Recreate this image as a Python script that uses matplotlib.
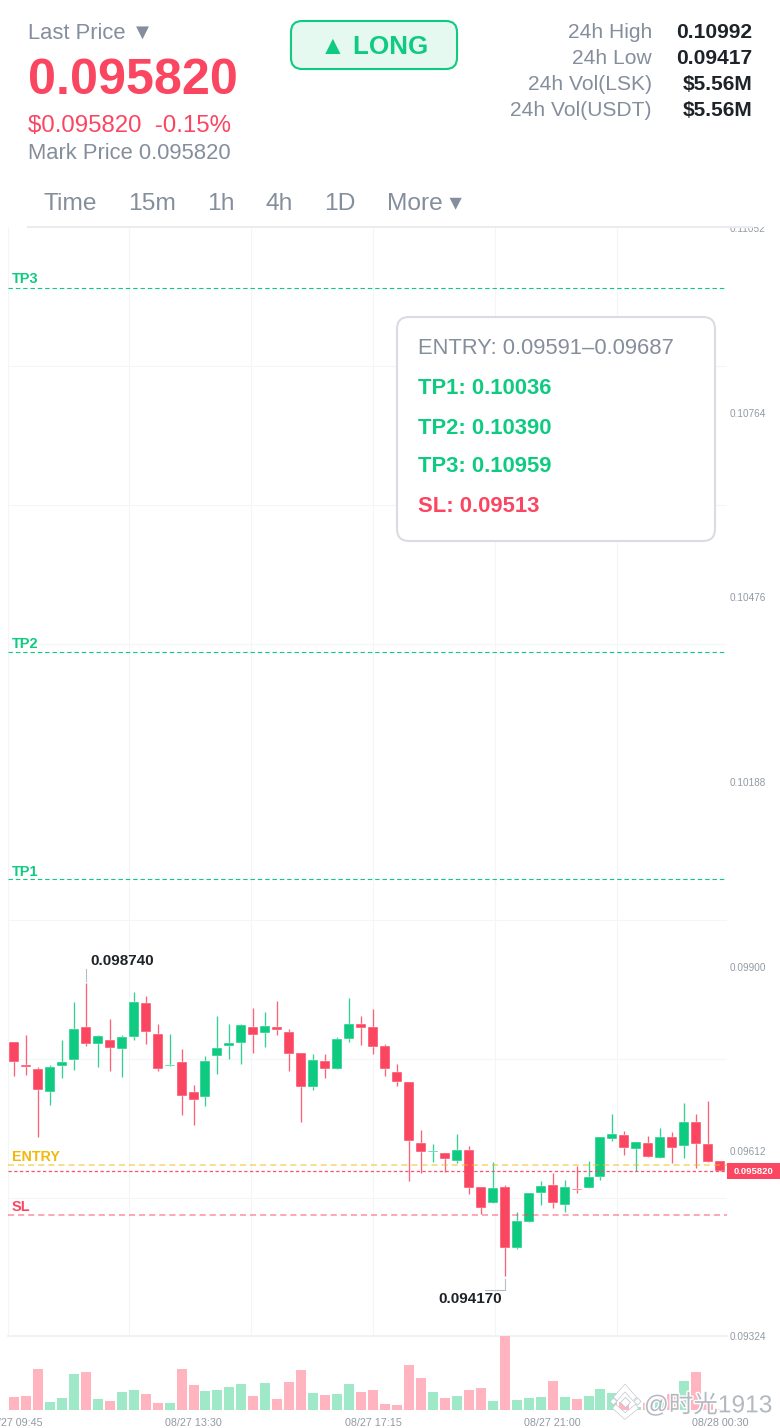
import matplotlib
matplotlib.use("Agg")
import matplotlib.pyplot as plt
from matplotlib.patches import FancyBboxPatch, Rectangle
import matplotlib.patheffects as pe

W, H = 780, 1428
plt.rcParams['font.family'] = ['Liberation Sans', 'DejaVu Sans', 'Noto Sans CJK SC']

# OHLC values (x 1e-6)
opens = [97830,97462,97404,97040,97451,97549,98054,97798,97856,97711,97908,98438,97950,97446,97508,
         97040,96963,97602,97763,97814,98064,97970,98059,97986,97649,97118,97533,97409,97872,98101,
         98064,97758,97352,97206,96255,96105,96094,95969,96145,95559,95309,95559,94608,95018,95470,
         95595,95288,95528,95548,95724,96312,96375,96156,96245,96021,96339,96203,96577,96234,95964]
highs = [97830,97934,97430,97462,97856,98444,98740,97939,98179,97929,98605,98547,98101,97950,97716,
         97159,97607,98230,98101,98106,98350,98297,98460,98023,97658,97633,97633,97903,98511,98230,
         98335,97794,97487,97206,96457,96234,96094,96390,96198,95559,95954,95590,95174,95475,95657,
         95777,95673,95891,95969,96339,96702,96432,96261,96359,96479,96426,96874,96702,96900,95964]
lows = [97299,97310,96348,96847,97268,97388,97763,97430,97377,97284,97861,97789,97377,97446,96686,
        96531,96827,97326,97560,97482,97658,97752,97934,97373,96582,97081,97268,97409,97830,97773,
        97633,97299,97143,95653,95787,95958,95802,95938,95450,95138,95309,94170,94597,95018,95283,
        95241,95174,95465,95548,95668,96276,96067,95818,96032,96021,95938,96021,95865,95958,95820]
closes = [97513,97430,97072,97435,97518,98028,97789,97914,97731,97898,98449,97981,97409,97466,96987,
          96920,97529,97736,97809,98085,97939,98074,98012,97642,97128,97544,97404,97867,98101,98039,
          97742,97399,97201,96281,96109,96120,95996,96136,95553,95236,95548,94608,95037,95475,95575,
          95314,95559,95512,95724,96339,96395,96177,96261,96036,96343,96177,96577,96239,95958,95820]
volumes = [39,41,122,24,35,107,113,33,26,54,61,47,22,20,122,74,56,60,69,79,42,81,33,84,120,51,46,48,77,55,
           60,18,15,135,96,55,36,42,60,65,26,222,30,35,39,88,39,33,41,63,51,25,10,20,35,48,87,115,25,3]
time_labels = ['08/27 09:45', '08/27 13:30', '08/27 17:15', '08/27 21:00', '08/28 00:30']
time_pos = [0, 15, 30, 45, 59]
price_ticks = [0.09324, 0.09612, 0.09900, 0.10188, 0.10476, 0.10764, 0.11052]
grid_prices = [0.09324, 0.09540, 0.09756, 0.09972, 0.10188, 0.10404, 0.10620, 0.10836, 0.11052]
grid_x = [-0.5, 9.65, 19.82, 30.0, 40.15, 50.35]
tp1, tp2, tp3, entry, sl, last = 0.10036, 0.10390, 0.10959, 0.09591, 0.09513, 0.09582

GREEN, RED = '#0ECB81', '#FB4661'
GRAY, DARK = '#848E9C', '#1E2329'

fig = plt.figure(figsize=(W/100, H/100), dpi=100, facecolor='white')

def axbox(x0, y0, x1, y1, **kw):
    return fig.add_axes([x0/W, 1-y1/H, (x1-x0)/W, (y1-y0)/H], **kw)

px = lambda v: v*0.72
xlim = (-0.5, 59.57)

# price panel
ax = axbox(8, 228, 727, 1336)
ax.set_xlim(*xlim); ax.set_ylim(price_ticks[0], price_ticks[-1])
for s in ax.spines.values(): s.set_visible(False)
ax.set_yticks(price_ticks); ax.set_yticks(grid_prices, minor=True)
ax.set_yticklabels([f'{p:.5f}' for p in price_ticks])
ax.yaxis.tick_right()
ax.tick_params(axis='y', which='major', length=0, pad=2.2, labelsize=px(10), labelcolor='#929AA5')
ax.tick_params(axis='y', which='minor', length=0)
ax.set_xticks(grid_x); ax.tick_params(axis='x', length=0, labelbottom=False)
ax.grid(True, axis='x', color='#F4F5F6', lw=0.8)
ax.grid(True, axis='y', which='minor', color='#F4F5F6', lw=0.8)
ax.set_axisbelow(True)
ax.axhline(price_ticks[0], color='#F1F2F4', lw=1.5, clip_on=False, zorder=1)

n = len(opens)
for i in range(n):
    o, h, l, c = [v*1e-6 for v in (opens[i], highs[i], lows[i], closes[i])]
    col = GREEN if c >= o else RED
    ax.vlines(i, l, h, color=col, lw=0.95, zorder=3, alpha=0.85)
    ax.bar(i, abs(c-o), bottom=min(o, c), width=0.835, color=col, edgecolor='white',
           linewidth=0.3, zorder=4)

dash = (0, (4, 2.6))
for val, col, a, ls, lw in [(tp3, GREEN, 1, dash, 0.8), (tp2, GREEN, 1, dash, 0.8),
                            (tp1, GREEN, 1, dash, 0.8), (entry, '#F0B90B', .6, dash, 1.1),
                            (last, RED, .95, (0, (2.6, 2)), 0.9), (sl, RED, .6, dash, 1.1)]:
    ax.axhline(val, color=col, alpha=a, ls=ls, lw=lw, zorder=5)

# volume panel
vx = axbox(8, 1336, 727, 1410)
vx.set_xlim(*xlim); vx.set_ylim(0, max(volumes))
vx.patch.set_alpha(0)
for s in vx.spines.values(): s.set_visible(False)
vx.set_yticks([])
vx.set_xticks(time_pos); vx.set_xticklabels(time_labels)
vx.tick_params(axis='x', length=0, pad=5.4, labelsize=px(10.8), labelcolor='#929AA5')
for t in vx.get_xticklabels(): t.set_clip_on(False)
vx.bar(range(n), volumes, width=0.835,
       color=['#9FE9C9' if closes[i] >= opens[i] else '#FFB4C0' for i in range(n)], linewidth=0)

# overlay in pixel coordinates
ui = fig.add_axes([0, 0, 1, 1], zorder=10)
ui.set_xlim(0, W); ui.set_ylim(H, 0); ui.axis('off'); ui.patch.set_alpha(0)

def T(x, y, s, size, color=GRAY, weight='normal', ha='left', **kw):
    return ui.text(x, y + 0.09*size, s, fontsize=px(size), color=color, fontweight=weight,
                   ha=ha, va='center', **kw)

ui.add_patch(Rectangle((727, 205), 53, 22, fc='white', ec='none'))
ui.plot([28, 752], [227, 227], color='#EAECEF', lw=1.5)

T(28, 31, 'Last Price ▼', 22)
T(28, 76, '0.095820', 50.2, RED, 'bold')
T(28, 124, '$0.095820  -0.15%', 24, RED)
T(28, 152, 'Mark Price 0.095820', 22)

ui.add_patch(FancyBboxPatch((291, 21), 166, 48, boxstyle='round,pad=0,rounding_size=11',
                            fc='#E6F9F1', ec=GREEN, lw=1.5))
T(374, 45, '▲ LONG', 26, GREEN, 'bold', ha='center')

for y, lab, val in zip([31, 57, 83, 109],
                       ['24h High', '24h Low', '24h Vol(LSK)', '24h Vol(USDT)'],
                       ['0.10992', '0.09417', '$5.56M', '$5.56M']):
    T(652, y, lab, 21, ha='right')
    T(752, y, val, 21, DARK, 'bold', ha='right')

for x, lab in zip([44, 128, 207, 266, 324, 387], ['Time', '15m', '1h', '4h', '1D', 'More ▾']):
    T(x, 202, lab, 24.5)

ui.add_patch(FancyBboxPatch((397, 317), 318, 224, boxstyle='round,pad=0,rounding_size=12',
                            fc='white', ec='#D9DCE0', lw=1.5))
T(418, 347, 'ENTRY: 0.09591–0.09687', 22)
T(418, 387, 'TP1: 0.10036', 22, GREEN, 'bold')
T(418, 427, 'TP2: 0.10390', 22, GREEN, 'bold')
T(418, 465, 'TP3: 0.10959', 22, GREEN, 'bold')
T(418, 505, 'SL: 0.09513', 22, RED, 'bold')

T(12, 278, 'TP3', 14.5, GREEN, 'bold')
T(12, 643, 'TP2', 14.5, GREEN, 'bold')
T(12, 871, 'TP1', 14.5, GREEN, 'bold')
T(12, 1156, 'ENTRY', 14.3, '#F0B90B', 'bold')
T(12, 1206, 'SL', 14.5, RED, 'bold')

T(90, 960, '0.098740', 15.2, DARK, 'bold')
T(438, 1298, '0.094170', 15.2, DARK, 'bold')
ui.plot([85.7, 85.7], [969, 981], color='#B7BDC6', lw=0.8)
ui.plot([504.5, 504.5, 485], [1279, 1290, 1290], color='#B7BDC6', lw=0.8)

ui.add_patch(Rectangle((727, 1163), 53, 16, fc=RED, ec='none'))
T(753.5, 1171, '0.095820', 9.5, 'white', 'bold', ha='center')

# watermark
halo = [pe.Stroke(linewidth=4.2, foreground='#C4C8CE'), pe.Stroke(linewidth=3, foreground='white'), pe.Normal()]
for xs, ys in [([617, 625, 633], [1397, 1388, 1397]), ([616, 625, 635], [1408, 1416, 1408])]:
    ui.plot(xs, ys, color='white', lw=3, solid_joinstyle='miter', path_effects=halo)
for x, y, s in [(613, 1401, 5), (637, 1401, 5), (625, 1402, 7)]:
    ui.plot(x, y, marker='D', ms=s*0.72, mfc='white', mec='#C4C8CE', mew=0.6)
wm = [pe.withStroke(linewidth=2, foreground='white')]
T(644, 1403, '@时光1913', 24.5, '#B4B9C1', path_effects=wm)

fig.savefig('out.png', dpi=100, facecolor='white')
